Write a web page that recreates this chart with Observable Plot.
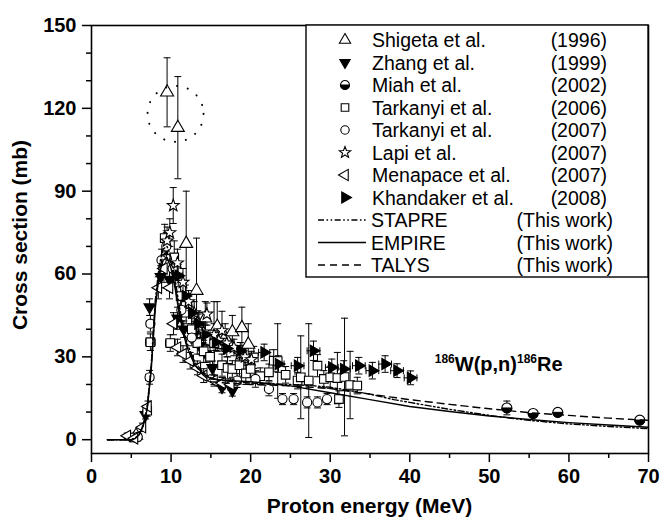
<!DOCTYPE html>
<html><head><meta charset="utf-8">
<script src="https://cdn.jsdelivr.net/npm/d3@7"></script>
<script src="https://cdn.jsdelivr.net/npm/@observablehq/plot@0.6"></script>
<style>body{margin:0;background:#fff}</style>
</head><body><div id="chart"></div>
<script>
// ---- Data: [energy MeV, cross section mb, dSigma, dE]
const shigeta = [[5.6,1.5,1.2],[9.5,125.8,12.5],[10.85,113,18.5],[11.9,71,19],[13.2,54,19],[14.3,44,6],[15.8,41,9],[16.8,37,5],[17.7,39,6],[18.9,40.5,7.5],[19.7,34.5,7.5]];
const zhang = [[6.8,9,1.5],[7.3,48,3],[8.7,59,4],[9.8,58,4],[10.8,44,4],[11.6,40,3],[12.8,38,3],[13.6,34,3],[14.4,31,3],[15.2,26,2.5],[16.4,19,2],[17.7,17.8,2]];
const miah = [[52.2,11.5,2.5],[55.5,9.5,1.2],[58.6,9.9,1.3],[68.9,7.1,1.3]];
const tarkanyi06 = [[5.3,0.8,1.5,0.5],[7.0,10.5,2,0.4],[7.4,35.3,3,0.6],[9.2,73,5],[9.9,35,3,0.6],[10.4,66,6],[11.2,52,5],[11.9,46,4],[12.6,40,4],[13.3,35,4],[14.1,32,4],[14.9,30,4],[15.4,35,15],[16.4,27,4],[17.1,26,4],[17.7,25.6,3],[18.6,27,4],[19.4,24,4],[20,25.6,3],[20.4,29.8,4],[21.2,23,3],[22.3,24.4,3],[22.9,28.6,4],[23.4,28.5,13.5],[24.4,23.5,3],[25.9,21.4,3],[26.3,22.6,15],[27.3,21.4,20.6],[28.4,26.8,4],[29.2,22,3],[30,22.6,4],[30.9,22.3,9.3],[31.1,14.7,3],[31.8,22.7,21.3],[32.5,19.8,12.2],[33.4,19.6,3]];
const tarkanyi07 = [[5.8,1,1.5,0.5],[7.3,22.6,2.5,0.5],[7.4,42,3,0.5],[8.8,65,4],[9.4,70,5],[10.2,62,5],[11.3,47,4],[12.6,37,3],[18.3,21.4,2.5],[20.6,22,3],[22.3,18.4,2.5],[24,14.7,2],[25.4,14.7,2],[27.1,13.5,2],[28.4,13.5,2],[29.6,14.7,2]];
const lapi = [[9.5,72,5],[9.84,75,5],[10.27,84.8,6.5],[10.8,64,5],[11.5,57,5],[12.2,50,4],[12.9,46,4],[13.5,42,4],[14.1,39,4],[14.5,45.5,4],[15.4,38,4],[16.0,36,3],[16.4,39.5,7],[17.0,35,3],[17.9,33.4,3],[18.6,31,3],[19.3,30,3],[20.1,29,3]];
const menapace = [[4.5,1.4,1],[5.4,0.5,1],[6.4,4.5,1.5],[7.1,12,2],[8.4,55,4],[9.1,62,5],[9.8,55,4],[10.3,42,4],[10.8,33.4,3],[11.5,31,3],[12.4,28.6,3],[13.3,26,2.5],[14.1,23.2,2.5],[15.4,21.4,2],[16.4,20.5,2],[17.5,20,2]];
const khandaker = [[10.9,59.4,4,0.5],[11.8,52,4,0.5],[12.6,46,4,0.5],[13.4,42,3.5,0.5],[14.3,38,3.5,0.6],[15.6,35.3,3,0.6],[17.0,33,3,0.6],[18.7,32.2,3,0.7],[21.7,31.6,3,0.7],[23.5,27.4,3,0.7],[25.9,26.8,3,0.8],[27.9,32.2,3.5,0.8],[30.2,26.2,3,0.8],[31.7,25.6,3,0.8],[33.6,26.8,3,0.8],[35.3,25,3,0.8],[36.9,27.4,3,0.8],[38.4,25,2.5,0.8],[40.1,22.4,2.5,0.8]];

const stapreCurve = [[2,0],[5,0],[5.5,0.6],[6,2],[6.5,5.5],[7,12],[7.5,27],[8,50],[8.5,63],[9,69],[9.5,70],[10,66],[10.5,58],[11,49],[11.5,41],[12,35],[13,28],[14,24.5],[15,22.5],[16,21.5],[18,21],[20,20.5],[22,20.3],[25,20],[28,19.5],[30,19],[32,18],[35,16.5],[38,14.5],[40,13.5],[45,11],[50,8.8],[55,7],[60,5.7],[65,4.8],[70,4]];
const empireCurve = [[2,0],[5,0],[5.5,0.5],[6,1.8],[6.5,5],[7,11],[7.5,25],[8,47],[8.5,60],[9,65],[9.5,66],[10,62],[10.5,55],[11,46],[11.5,39],[12,33.5],[13,27],[14,24],[15,22],[17,21.5],[20,21],[25,19.5],[30,17],[35,14.5],[40,12],[45,10.2],[50,8.6],[55,7.3],[60,6.2],[65,5.3],[70,4.5]];
const talysCurve = [[2,0],[5,0],[5.5,0.5],[6,2],[6.5,5.2],[7,11.5],[7.5,26],[8,48],[8.5,61],[9,67],[9.5,68],[10,64],[10.5,56],[11,47],[11.5,39.5],[12,34],[13,27],[14,23.5],[15,21],[17,20.5],[20,20],[25,19.5],[30,18.5],[35,16.5],[40,14.5],[45,12.8],[50,11.2],[55,9.8],[60,8.8],[65,7.8],[70,7]];

const highlight = [[10.56,118]];
const reactionLabel = [[43.2,24.7]];
const xMajor = [0,10,20,30,40,50,60,70];
const xMinor = [5,15,25,35,45,55,65];
const yMajor = [0,30,60,90,120,150];
const yMinor = [10,20,40,50,70,80,100,110,130,140];

// ---- Symbols
const poly = pts => ({draw(ctx,size){const k=Math.sqrt(size/Math.PI); pts.forEach(([x,y],i)=> i?ctx.lineTo(k*x,k*y):ctx.moveTo(k*x,k*y)); ctx.closePath();}});
const tri = a => poly([0,1,2].map(i=>{const t=(a+i*120)*Math.PI/180; return [Math.cos(t),Math.sin(t)];}));
const symTriUp = tri(-90), symTriDown = tri(90), symTriLeft = tri(180), symTriRight = tri(0);
const symSquare = poly([[-1,-1],[1,-1],[1,1],[-1,1]]);
const symStar = poly(d3.range(10).map(i=>{const t=(-90+i*36)*Math.PI/180, rr=i%2?0.42:1; return [rr*Math.cos(t),rr*Math.sin(t)];}));
const symCircle = {draw(ctx,size){const k=Math.sqrt(size/Math.PI); ctx.moveTo(k,0); ctx.arc(0,0,k,0,2*Math.PI);}};
const symHalf = {draw(ctx,size){const k=Math.sqrt(size/Math.PI); ctx.moveTo(k,0); ctx.arc(0,0,k,0,Math.PI); ctx.closePath();}};
const symHCap = {draw(ctx,size){const k=Math.sqrt(size/Math.PI); ctx.moveTo(-k,0); ctx.lineTo(k,0);}};
const symVCap = {draw(ctx,size){const k=Math.sqrt(size/Math.PI); ctx.moveTo(0,-k); ctx.lineTo(0,k);}};

const series = [
  {name:"Shigeta et al.", year:"(1996)", data:shigeta, symbol:symTriUp, r:7.5, fill:"white", lr:6.5},
  {name:"Zhang et al.", year:"(1999)", data:zhang, symbol:symTriDown, r:6.5, fill:"black", lr:6},
  {name:"Miah et al.", year:"(2002)", data:miah, symbol:symCircle, r:5, fill:"white", half:true, lr:4.5},
  {name:"Tarkanyi et al.", year:"(2006)", data:tarkanyi06, symbol:symSquare, r:4.3, fill:"white", lr:3.8},
  {name:"Tarkanyi et al.", year:"(2007)", data:tarkanyi07, symbol:symCircle, r:4.6, fill:"white", lr:4.2},
  {name:"Lapi et al.", year:"(2007)", data:lapi, symbol:symStar, r:6.3, fill:"white", lr:6},
  {name:"Menapace et al.", year:"(2007)", data:menapace, symbol:symTriLeft, r:6.5, fill:"white", lr:6.5},
  {name:"Khandaker et al.", year:"(2008)", data:khandaker, symbol:symTriRight, r:6.5, fill:"black", lr:6.5}
];
const theory = [
  {name:"STAPRE", note:"(This work)", data:stapreCurve, dash:"6,2.5,1.6,2.5,1.6,2.5"},
  {name:"EMPIRE", note:"(This work)", data:empireCurve, dash:null},
  {name:"TALYS", note:"(This work)", data:talysCurve, dash:"7,5"}
];

const rowsOf = S => S.data.map(([E,s,e,xe]) => ({E, s, e:e||0, xe:xe||0}));
const errMarks = series.flatMap(S => {
  const rows = rowsOf(S), ve = rows.filter(d=>d.e>0), he = rows.filter(d=>d.xe>0);
  return [
    Plot.ruleX(ve, {x:"E", y1:d=>d.s-d.e, y2:d=>d.s+d.e, stroke:"black", strokeWidth:1}),
    Plot.dot(ve, {x:"E", y:d=>d.s+d.e, symbol:symHCap, r:3.5, stroke:"black", strokeWidth:1, fill:"none"}),
    Plot.dot(ve, {x:"E", y:d=>d.s-d.e, symbol:symHCap, r:3.5, stroke:"black", strokeWidth:1, fill:"none"}),
    Plot.ruleY(he, {y:"s", x1:d=>d.E-d.xe, x2:d=>d.E+d.xe, stroke:"black", strokeWidth:1}),
    Plot.dot(he, {x:d=>d.E-d.xe, y:"s", symbol:symVCap, r:3.5, stroke:"black", strokeWidth:1, fill:"none"}),
    Plot.dot(he, {x:d=>d.E+d.xe, y:"s", symbol:symVCap, r:3.5, stroke:"black", strokeWidth:1, fill:"none"})
  ];
});
const symMarks = series.flatMap(S => {
  const rows = rowsOf(S);
  const m = [Plot.dot(rows, {x:"E", y:"s", symbol:S.symbol, r:S.r, fill:S.fill, stroke:"black", strokeWidth:1.1})];
  if (S.half) m.push(Plot.dot(rows, {x:"E", y:"s", symbol:symHalf, r:S.r, fill:"black", stroke:"black", strokeWidth:1}));
  return m;
});
const lineMarks = theory.map(T => Plot.line(T.data, {x:d=>d[0], y:d=>d[1], stroke:"black", strokeWidth:1.4, strokeDasharray:T.dash}));

const axisText = {fontSize:20, fontWeight:"bold"};
const plot = Plot.plot({
  width:661, height:521,
  marginLeft:91, marginRight:13, marginTop:25, marginBottom:68,
  x:{domain:[0,70]}, y:{domain:[-5,150]},
  style:{fontFamily:"'Liberation Sans', Arial, sans-serif", background:"white", color:"black"},
  marks:[
    Plot.axisX({ticks:xMajor, tickSize:9, tickPadding:6, label:null, strokeWidth:1.5, ...axisText}),
    Plot.axisX({ticks:xMinor, tickSize:5, tickFormat:()=>"", label:null, strokeWidth:1.5}),
    Plot.axisY({ticks:yMajor, tickSize:9, tickPadding:6, label:null, strokeWidth:1.5, ...axisText}),
    Plot.axisY({ticks:yMinor, tickSize:5, tickFormat:()=>"", label:null, strokeWidth:1.5}),
    ...errMarks,
    ...symMarks,
    ...lineMarks,
    Plot.dot(highlight, {x:d=>d[0], y:d=>d[1], r:28, stroke:"black", fill:"none", strokeWidth:2, strokeDasharray:"0.1,11", strokeLinecap:"round"}),
    Plot.frame({stroke:"black", strokeWidth:1.6})
  ]
});
document.getElementById("chart").appendChild(plot);

const svg = d3.select(plot);
const xs = plot.scale("x"), ys = plot.scale("y");
const FONT = "'Liberation Sans', Arial, sans-serif";

// axis titles
svg.append("text").attr("transform", `translate(27,235) rotate(-90)`)
  .attr("text-anchor","middle").attr("font-family",FONT).attr("font-weight","bold").attr("font-size",21)
  .attr("fill","black").text("Cross section (mb)");
svg.append("text").attr("x",(91+648)/2).attr("y",513)
  .attr("text-anchor","middle").attr("font-family",FONT).attr("font-weight","bold").attr("font-size",21)
  .attr("fill","black").text("Proton energy (MeV)");

// reaction label
const rl = svg.append("text").attr("x", xs.apply(reactionLabel[0][0])).attr("y", ys.apply(reactionLabel[0][1]))
  .attr("text-anchor","start")
  .attr("font-family",FONT).attr("font-weight","bold").attr("font-size",20).attr("fill","black");
rl.append("tspan").attr("font-size",12).attr("dy",-8).text("186");
rl.append("tspan").attr("dy",8).text("W(p,n)");
rl.append("tspan").attr("font-size",12).attr("dy",-8).text("186");
rl.append("tspan").attr("dy",8).text("Re");

// legend
const lg = svg.append("g").attr("font-family",FONT).attr("font-size",19.5).attr("fill","black").attr("font-weight","normal");
lg.append("rect").attr("x",306).attr("y",25).attr("width",342).attr("height",252)
  .attr("fill","white").attr("stroke","black").attr("stroke-width",1.4);
const rowY = i => 40 + i*22.5;
series.forEach((S,i) => {
  const y = rowY(i);
  lg.append("path").attr("transform",`translate(345,${y})`)
    .attr("d", d3.symbol(S.symbol, Math.PI*S.lr*S.lr)())
    .attr("fill", S.fill).attr("stroke","black").attr("stroke-width",1.1);
  if (S.half) lg.append("path").attr("transform",`translate(345,${y})`)
    .attr("d", d3.symbol(symHalf, Math.PI*S.lr*S.lr)()).attr("fill","black").attr("stroke","black");
  lg.append("text").attr("x",372).attr("y",y).attr("dy","0.36em").attr("text-anchor","start").text(S.name);
  lg.append("text").attr("x",607).attr("y",y).attr("dy","0.36em").attr("text-anchor","end").text(S.year);
});
theory.forEach((T,j) => {
  const y = rowY(series.length + j);
  lg.append("line").attr("x1",318).attr("x2",366).attr("y1",y).attr("y2",y)
    .attr("stroke","black").attr("stroke-width",1.4).attr("stroke-dasharray",T.dash);
  lg.append("text").attr("x",371).attr("y",y).attr("dy","0.36em").attr("text-anchor","start").text(T.name);
  lg.append("text").attr("x",613).attr("y",y).attr("dy","0.36em").attr("text-anchor","end").text(T.note);
});
</script></body></html>
